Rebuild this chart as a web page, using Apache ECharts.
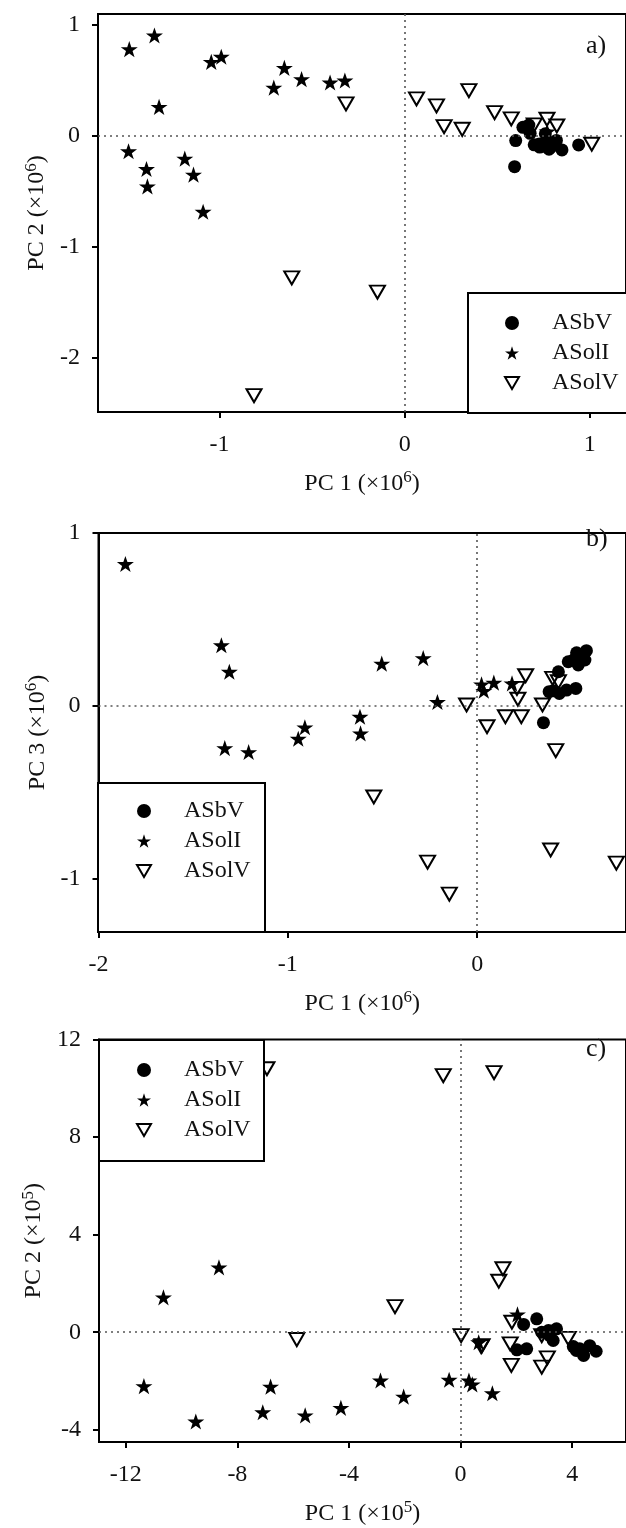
<!DOCTYPE html>
<html><head><meta charset="utf-8">
<script src="https://cdn.jsdelivr.net/npm/echarts@6/dist/echarts.min.js"></script>
<style>html,body{margin:0;padding:0;background:#fff}#c{width:626px;height:1528px}</style>
</head><body><div id="c"></div>
<script>
// ---------- data ----------
const seriesNames = ['ASbV', 'ASolI', 'ASolV'];
// Panel a) PC1 vs PC2 (x10^6)
const aBV = [[0.594,-0.277],[0.60,-0.042],[0.639,0.078],[0.671,0.099],[0.678,0.024],[0.728,-0.072],[0.75,-0.09],[0.77,-0.05],[0.79,-0.10],[0.81,-0.06],[0.78,-0.12],[0.76,0.02],[0.85,-0.126],[0.94,-0.081],[0.73,-0.10],[0.82,-0.04],[0.70,-0.08]];
const aSolI = [[-1.488,0.783],[-1.352,0.906],[-1.327,0.262],[-1.045,0.668],[-0.991,0.714],[-0.707,0.436],[-0.650,0.614],[-0.557,0.512],[-0.403,0.482],[-0.323,0.500],[-1.492,-0.138],[-1.395,-0.298],[-1.390,-0.455],[-1.188,-0.205],[-1.141,-0.349],[-1.089,-0.684],[0.77,0.04]];
const aSolV = [[-0.317,0.289],[-0.610,-1.28],[-0.147,-1.409],[-0.814,-2.342],[0.064,0.334],[0.172,0.271],[0.213,0.084],[0.311,0.060],[0.347,0.409],[0.486,0.210],[0.576,0.154],[0.769,0.151],[0.822,0.090],[1.011,-0.075],[0.70,0.10]];
// Panel b) PC1 vs PC3 (x10^6)
const bBV = [[0.35,-0.096],[0.38,0.083],[0.429,0.198],[0.481,0.256],[0.525,0.308],[0.577,0.32],[0.569,0.266],[0.534,0.237],[0.521,0.102],[0.434,0.073],[0.402,0.088],[0.472,0.092],[0.551,0.283],[0.508,0.266]];
const bSolI = [[-1.858,0.821],[-1.351,0.351],[-1.309,0.198],[-0.504,0.245],[-0.285,0.277],[-0.21,0.023],[-0.619,-0.062],[-0.616,-0.158],[-0.91,-0.123],[-0.945,-0.189],[-1.333,-0.243],[-1.207,-0.266],[0.023,0.125],[0.035,0.088],[0.088,0.135],[0.184,0.131]];
const bSolV = [[-0.056,0.006],[0.256,0.175],[0.21,0.102],[0.215,0.039],[0.149,-0.062],[0.233,-0.062],[0.052,-0.12],[0.345,0.006],[0.399,0.16],[0.429,0.14],[0.415,-0.258],[0.388,-0.832],[-0.546,-0.526],[-0.262,-0.902],[-0.147,-1.087],[0.735,-0.908]];
// Panel c) PC1 vs PC2 (x10^5)
const cBV = [[2.26,0.32],[2.73,0.55],[2.02,-0.72],[2.37,-0.68],[2.91,0.0],[3.15,0.07],[3.44,0.14],[3.32,-0.34],[3.20,-0.14],[4.04,-0.59],[4.27,-0.68],[4.41,-0.95],[4.63,-0.55],[4.86,-0.78],[4.15,-0.75]];
const cSolI = [[-8.66,2.66],[-10.65,1.43],[-11.35,-2.21],[-9.49,-3.66],[-7.09,-3.28],[-6.81,-2.23],[-5.57,-3.41],[-4.29,-3.10],[-2.87,-1.98],[-2.04,-2.64],[-0.41,-1.95],[0.30,-1.98],[0.42,-2.14],[0.65,-0.41],[1.14,-2.50],[2.04,0.73]];
const cSolV = [[-6.94,10.80],[-0.62,10.52],[1.20,10.64],[-5.87,-0.30],[-2.35,1.05],[0.02,-0.14],[0.74,-0.59],[1.52,2.60],[1.37,2.09],[0.77,-0.55],[1.84,0.41],[1.78,-0.48],[1.82,-1.36],[2.91,-0.14],[3.11,-1.05],[2.91,-1.43],[3.86,-0.25]];
// tick labels
const aTicksX = [-1, 0, 1], aTicksY = [-2, -1, 0, 1];
const bTicksX = [-2, -1, 0], bTicksY = [-1, 0, 1];
const cTicksX = [-12, -8, -4, 0, 4], cTicksY = [-4, 0, 4, 8, 12];
const panelLabels = ['a)', 'b)', 'c)'];
const xNames = ['PC 1 (×10{s|6})', 'PC 1 (×10{s|6})', 'PC 1 (×10{s|5})'];
const yNames = ['PC 2 (×10{s|6})', 'PC 3 (×10{s|6})', 'PC 2 (×10{s|5})'];

// ---------- styling ----------
const FONT = 'Liberation Serif';
const TXT = '#111';
const STAR = 'path://M50,0 L61.8,35.1 L98.6,35.1 L68.8,57 L80.2,92.2 L50,70.5 L19.8,92.2 L31.2,57 L1.4,35.1 L38.2,35.1 Z';
const TRI = 'path://M0,0 L14,0 L7,12 Z';
const rich = { s: { fontFamily: FONT, fontSize: 17, color: TXT, verticalAlign: 'top', padding: [0, 0, 12, 0] } };

const grids = [
  { left: 98, top: 14, right: -4, height: 398, show: true, borderColor: '#000', borderWidth: 2, backgroundColor: 'transparent' },
  { left: 98.5, top: 533, right: -4, height: 399, show: true, borderColor: '#000', borderWidth: 2, backgroundColor: 'transparent' },
  { left: 99, top: 1039.5, right: -4, height: 402.5, show: true, borderColor: '#000', borderWidth: 2, backgroundColor: 'transparent' }
];
const ranges = [
  { xmin: -1.657, xmax: 1.196, ymin: -2.49, ymax: 1.10, tx: aTicksX, ty: aTicksY },
  { xmin: -2.0, xmax: 0.786, ymin: -1.306, ymax: 1.0, tx: bTicksX, ty: bTicksY },
  { xmin: -12.96, xmax: 5.93, ymin: -4.5, ymax: 12, tx: cTicksX, ty: cTicksY }
];
const data = [[aBV, aSolI, aSolV], [bBV, bSolI, bSolV], [cBV, cSolI, cSolV]];

function axisCommon(ticks) {
  return {
    type: 'value',
    axisLine: { show: true, onZero: false, lineStyle: { color: '#000', width: 2 } },
    axisTick: { show: true, inside: false, length: 6, lineStyle: { color: '#000', width: 2 }, customValues: ticks },
    axisLabel: { customValues: ticks, fontFamily: FONT, fontSize: 24, color: TXT, margin: 21 },
    splitLine: { show: false },
    nameLocation: 'middle',
    nameTextStyle: { fontFamily: FONT, fontSize: 24, color: TXT, rich: rich }
  };
}

const xAxis = [], yAxis = [], series = [], legend = [], graphic = [], title = [];
grids.forEach((g, i) => {
  const r = ranges[i];
  xAxis.push(Object.assign(axisCommon(r.tx), { gridIndex: i, min: r.xmin, max: r.xmax, name: xNames[i], nameGap: 57 }));
  const ya = Object.assign(axisCommon(r.ty), { gridIndex: i, min: r.ymin, max: r.ymax, name: yNames[i], nameGap: 43 });
  ya.axisLabel = Object.assign({}, ya.axisLabel, { margin: 18 });
  yAxis.push(ya);
  const styles = [
    { symbol: 'circle', symbolSize: 13, itemStyle: { color: '#000', opacity: 1 } },
    { symbol: STAR, symbolSize: 17, symbolKeepAspect: true, itemStyle: { color: '#000', opacity: 1 } },
    { symbol: TRI, symbolSize: [15, 13], itemStyle: { color: 'rgba(255,255,255,0)', borderColor: '#000', borderWidth: 2, opacity: 1 } }
  ];
  seriesNames.forEach((nm, k) => {
    const s = Object.assign({ type: 'scatter', name: nm, xAxisIndex: i, yAxisIndex: i, data: data[i][k], z: 3, silent: true }, styles[k]);
    if (k === 0) {
      s.markLine = {
        silent: true, symbol: 'none', label: { show: false },
        lineStyle: { type: [2, 4], color: '#555', width: 1.6, opacity: 1 },
        data: [{ xAxis: 0 }, { yAxis: 0 }]
      };
    }
    series.push(s);
  });
});

// legend boxes
const boxes = [
  { x: 468, y: 293, w: 170, h: 120 },
  { x: 98, y: 783, w: 167, h: 149 },
  { x: 99, y: 1040, w: 165, h: 121 }
];
boxes.forEach(b => graphic.push({ type: 'rect', z: 10, shape: { x: b.x, y: b.y, width: b.w, height: b.h }, style: { fill: '#fff', stroke: '#000', lineWidth: 2 } }));
const legPos = [{ left: 504, top: 311 }, { left: 136, top: 799 }, { left: 136, top: 1058 }];
legPos.forEach(p => legend.push({
  left: p.left, top: p.top, orient: 'vertical', itemWidth: 14, itemHeight: 14, itemGap: 6, padding: 0, z: 20,
  selectedMode: false,
  textStyle: { fontFamily: FONT, fontSize: 24, color: TXT, padding: [0, 0, 0, 28] },
  data: seriesNames
}));
const labPos = [{ left: 586, top: 33 }, { left: 586, top: 526 }, { left: 586, top: 1036 }];
labPos.forEach((p, i) => title.push({ text: panelLabels[i], left: p.left, top: p.top, padding: 0, textStyle: { fontFamily: FONT, fontSize: 26, fontWeight: 'normal', color: TXT } }));

const chart = echarts.init(document.getElementById('c'), null, { renderer: 'canvas' });
chart.setOption({ animation: false, backgroundColor: '#fff', grid: grids, xAxis, yAxis, series, legend, graphic, title });
</script></body></html>
